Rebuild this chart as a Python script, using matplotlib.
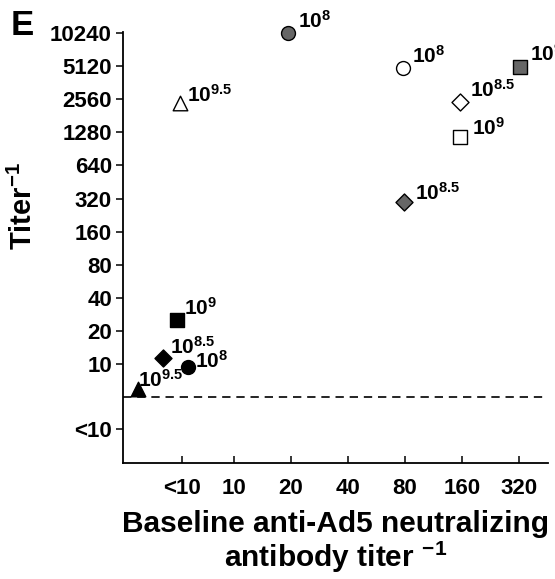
import matplotlib.pyplot as plt
import numpy as np

plt.rcParams['font.family'] = ['Liberation Sans', 'DejaVu Sans']
plt.rcParams['font.weight'] = 'bold'
plt.rcParams['mathtext.fontset'] = 'custom'
plt.rcParams['mathtext.rm'] = 'Liberation Sans:bold'
plt.rcParams['mathtext.bf'] = 'Liberation Sans:bold'
plt.rcParams['mathtext.it'] = 'Liberation Sans:bold'

# values (x <10 points are spread around the "<10" column)
baseline = [3.1, 4.2, 5.7, 5.0, 5.2, 19.3, 78, 324, 156, 156, 79]
titer = [5.9, 11.3, 9.4, 25.1, 2360, 10240, 4920, 5000, 2410, 1160, 297]
dose = ['9.5', '8.5', '8', '9', '9.5', '8', '8', '9', '8.5', '9', '8.5']
group = ['black', 'black', 'black', 'black',
         'open', 'gray', 'open', 'gray', 'open', 'open', 'gray']

x_ticks = [5.3, 10, 20, 40, 80, 160, 320]
x_labels = ['<10', '10', '20', '40', '80', '160', '320']
y_ticks = [2.56, 10, 20, 40, 80, 160, 320, 640, 1280, 2560, 5120, 10240]
y_labels = ['<10', '10', '20', '40', '80', '160', '320', '640', '1280', '2560', '5120', '10240']
cutoff = 5

shape = {'9.5': '^', '8.5': 'D', '8': 'o', '9': 's'}
msize = {'^': 110, 'D': 75, 'o': 100, 's': 100}
fill = {'black': 'black', 'open': 'white', 'gray': '#666666'}
# label nudges in points (from point centre to label baseline start)
label_off = [(0.5, 1.5), (5, 3.5), (5, -0.7), (5, 3.5), (5, 0.7), (7, 3.5),
             (6.5, 3.5), (7, 4.3), (7, 3.5), (8.5, 1.5), (8, 1.5)]

fig = plt.figure(figsize=(5.55, 5.79), dpi=100)
ax = fig.add_axes([0.2216, 0.2003, 0.9870 - 0.2216, 0.9447 - 0.2003])

for x, y, d, g, off in zip(baseline, titer, dose, group, label_off):
    m = shape[d]
    ax.scatter(x, y, marker=m, s=msize[m], facecolor=fill[g], edgecolor='black',
               linewidth=1.0, zorder=3, clip_on=False)
    ax.annotate(r'$10^{%s}$' % d, (x, y), xytext=off, textcoords='offset points',
                ha='left', va='baseline', fontsize=15, annotation_clip=False, zorder=4)

ax.axhline(cutoff, color='black', linestyle=(0, (5, 3.5)), linewidth=1.2)

ax.set_xscale('log', base=2)
ax.set_yscale('log', base=2)
ax.set_xlim(2.59, 455)
ax.set_ylim(1.26, 10450)
ax.set_xticks(x_ticks)
ax.set_xticklabels(x_labels)
ax.set_yticks(y_ticks)
ax.set_yticklabels(y_labels)
ax.minorticks_off()
ax.tick_params(axis='x', direction='in', length=5, width=1.1, labelsize=16, pad=11)
ax.tick_params(axis='y', direction='out', length=5, width=1.1, labelsize=16, pad=3)

for s in ['top', 'right']:
    ax.spines[s].set_visible(False)
for s in ['left', 'bottom']:
    ax.spines[s].set_linewidth(1.3)

ax.set_xlabel('Baseline anti-Ad5 neutralizing\nantibody titer $^{-1}$', fontsize=21.5,
              fontweight='bold', labelpad=8, linespacing=1.05)
fig.text(23 / 555, 1 - 206 / 579, 'Titer$^{-1}$', fontsize=21, fontweight='bold',
         rotation=90, ha='center', va='center')

fig.text(0.02, 0.985, 'E', fontsize=25, fontweight='bold', ha='left', va='top')

fig.savefig('out.png', dpi=100)
